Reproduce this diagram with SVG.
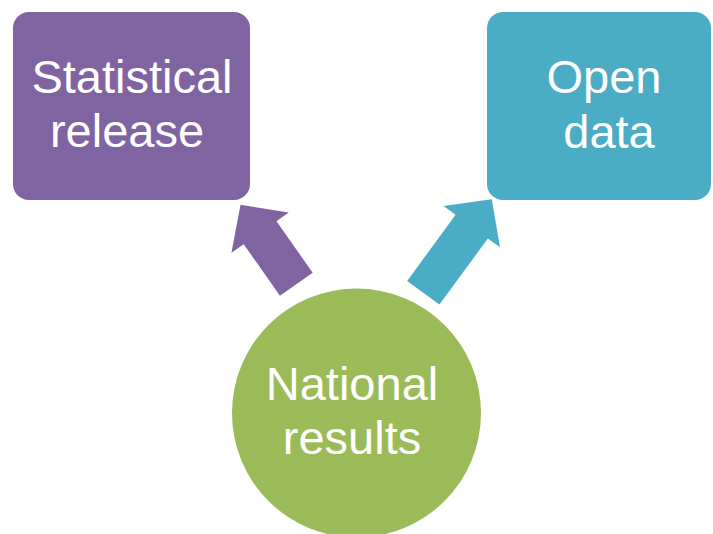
<svg xmlns="http://www.w3.org/2000/svg" width="713" height="534" viewBox="0 0 713 534">
  <style>
    .lbl { font-family: "Liberation Sans", Arial, sans-serif; font-size: 47px; fill: #ffffff; text-anchor: middle; }
  </style>
  <defs>
    <polygon id="arr97" points="-20,0 -20,-63 -35,-63 0,-97 35,-63 20,-63 20,0"/>
    <polygon id="arr116" points="-20,0 -20,-82 -35,-82 0,-116 35,-82 20,-82 20,0"/>
  </defs>
  <rect width="713" height="534" fill="#ffffff"/>
  <g id="connectors">
    <use href="#arr97" fill="#8064A2" transform="translate(296.3,284.2) rotate(-35.1)"/>
    <use href="#arr116" fill="#4BACC6" transform="translate(423.3,292.8) rotate(36.2)"/>
  </g>
  <g id="statistical-release">
    <rect x="13" y="12" width="237" height="188" rx="16" fill="#8064A2"/>
    <text class="lbl" x="132" y="93">Statistical</text>
    <text class="lbl" x="127" y="147">release</text>
  </g>
  <g id="open-data">
    <rect x="487" y="12" width="224" height="188" rx="16" fill="#4BACC6"/>
    <text class="lbl" x="604" y="93">Open</text>
    <text class="lbl" x="609" y="148">data</text>
  </g>
  <g id="national-results">
    <circle cx="356.5" cy="413" r="124.5" fill="#9BBB59"/>
    <text class="lbl" x="352" y="400">National</text>
    <text class="lbl" x="352" y="454">results</text>
  </g>
</svg>
